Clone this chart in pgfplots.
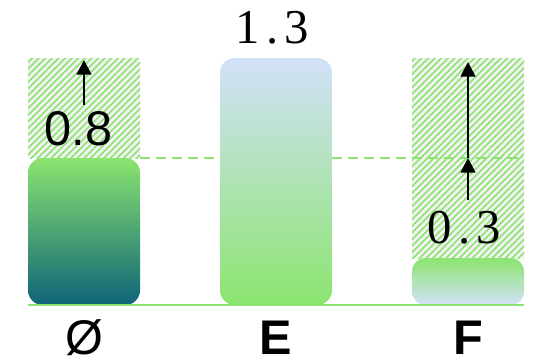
\documentclass[border=0pt]{standalone}
\usepackage{fontspec}
\setmainfont{Liberation Sans}
\newfontfamily\seriffont{Liberation Serif}
\usepackage{pgfplots}
\pgfplotsset{compat=1.18}
\usetikzlibrary{patterns.meta, arrows.meta}
\definecolor{cgreen}{HTML}{8BE46F}
\definecolor{cteal}{HTML}{0E6478}
\definecolor{cmid}{HTML}{62B27C}
\definecolor{cblue}{HTML}{D2E1F9}
\definecolor{chatchbg}{HTML}{F2F2F2}
\newcommand{\bigfont}{\fontsize{36.5}{40}\selectfont}
\begin{document}
\begin{tikzpicture}
\begin{axis}[
  at={(21pt,42pt)}, anchor=south west,
  scale only axis, width=372pt, height=228.75pt,
  xmin=-0.29167, xmax=2.29167, ymin=0.065, ymax=1.59,
  clip=false,
  axis line style={draw=none},
  xtick style={draw=none},
  ytick=\empty,
  xtick={0,1,2},
  xticklabels={Ø,\textbf{E},\textbf{F}},
  xticklabel style={font=\bigfont, inner sep=0pt, text depth=0pt, anchor=base, yshift=-37pt},
]
% hatched regions (from bar top to the tallest value)
\addplot[draw=none, fill=chatchbg] coordinates {(-0.29167,0.8) (0.29167,0.8) (0.29167,1.3) (-0.29167,1.3)} --cycle;
\addplot[draw=none, pattern={Lines[angle=45,distance=3.5pt,line width=1.2pt]}, pattern color=cgreen] coordinates {(-0.29167,0.8) (0.29167,0.8) (0.29167,1.3) (-0.29167,1.3)} --cycle;
\addplot[draw=none, fill=chatchbg] coordinates {(1.70833,0.3) (2.29167,0.3) (2.29167,1.3) (1.70833,1.3)} --cycle;
\addplot[draw=none, pattern={Lines[angle=45,distance=3.5pt,line width=1.2pt]}, pattern color=cgreen] coordinates {(1.70833,0.3) (2.29167,0.3) (2.29167,1.3) (1.70833,1.3)} --cycle;
% dashed reference line at 0.8
\addplot[cgreen, line width=1.6pt, dash pattern=on 7.5pt off 4.5pt] coordinates {(0.29167,0.8) (2.29167,0.8)};
% bars
\addplot[draw=none, rounded corners=11pt, top color=cgreen, middle color=cmid, bottom color=cteal]
  coordinates {(0,0.065) (0.29167,0.065) (0.29167,0.8) (-0.29167,0.8) (-0.29167,0.065)} --cycle;
\addplot[draw=none, rounded corners=11pt, top color=cblue, bottom color=cgreen]
  coordinates {(1,0.065) (1.29167,0.065) (1.29167,1.3) (0.70833,1.3) (0.70833,0.065)} --cycle;
\addplot[draw=none, rounded corners=10pt, top color=cgreen, bottom color=cblue]
  coordinates {(2,0.065) (2.29167,0.065) (2.29167,0.3) (1.70833,0.3) (1.70833,0.065)} --cycle;
% baseline
\addplot[cgreen, line width=1.5pt] coordinates {(-0.29167,0.063) (2.29167,0.063)};
% arrows
\addplot[line width=2pt, -{Triangle[length=11pt,width=11pt]}] coordinates {(0,1.065) (0,1.29)};
\addplot[line width=2pt, -{Triangle[length=11pt,width=11pt]}] coordinates {(2,0.8) (2,1.28)};
\addplot[line width=2pt, -{Triangle[length=11pt,width=11pt]}] coordinates {(2,0.59) (2,0.8)};
% value labels
\node[font=\bigfont, anchor=base, inner sep=0pt] at (axis cs:-0.03,0.865) {0.8};
\node[font=\bigfont\seriffont, anchor=base, inner sep=0pt] at (axis cs:0.98,1.375) {1\kern0.12em.\kern0.12em3};
\node[font=\bigfont\seriffont, anchor=base, inner sep=0pt] at (axis cs:1.98,0.375) {0\kern0.12em.\kern0.12em3};
\end{axis}
\pgfresetboundingbox
\path[use as bounding box] (0,0) rectangle (402pt,270.75pt);
\end{tikzpicture}
\end{document}
